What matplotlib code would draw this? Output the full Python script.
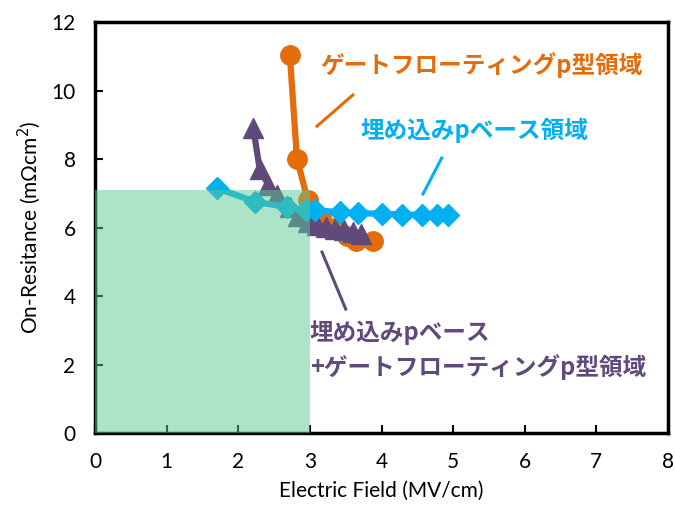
import matplotlib
matplotlib.use('Agg')
import matplotlib.pyplot as plt
from matplotlib.patches import Rectangle

plt.rcParams['font.family'] = ['Lato', 'DejaVu Sans']

# ゲートフローティングp型領域
float_x = [2.72, 2.82, 2.97, 3.15, 3.35, 3.52, 3.65, 3.88]
float_y = [11.05, 8.0, 6.8, 6.3, 6.0, 5.75, 5.6, 5.6]

# 埋め込みpベース領域
buried_x = [1.70, 2.24, 2.68, 2.95, 3.07, 3.42, 3.67, 4.01, 4.29, 4.57, 4.78, 4.93]
buried_y = [7.15, 6.75, 6.6, 6.5, 6.5, 6.45, 6.42, 6.4, 6.38, 6.37, 6.37, 6.37]

# 埋め込みpベース + ゲートフローティングp型領域
combo_x = [2.21, 2.30, 2.42, 2.54, 2.72, 2.84, 2.97, 3.10, 3.22, 3.35, 3.48, 3.60, 3.72]
combo_y = [8.9, 7.7, 7.25, 6.95, 6.6, 6.35, 6.15, 6.08, 6.02, 5.97, 5.92, 5.86, 5.8]

# target region
target_e = 3.0
target_r = 7.1

orange = '#E46C0A'
blue = '#00B0F0'
purple = '#604A7B'

fig = plt.figure(figsize=(6.75, 5.15), dpi=100)
ax = fig.add_axes([0.1407, 0.1592, 0.849, 0.798])

ax.plot(float_x, float_y, color=orange, lw=4.5, marker='o', markersize=14, zorder=3)
ax.plot(combo_x, combo_y, color=purple, lw=4.5, marker='^', markersize=14, zorder=4)
ax.plot(buried_x, buried_y, color=blue, lw=4.5, marker='D', markersize=11, zorder=5)

ax.add_patch(Rectangle((0, 0), target_e, target_r, facecolor='#5CC895', alpha=0.5,
                       edgecolor='none', zorder=6))

# annotation leader lines
ax.plot([3.60, 3.10], [9.87, 8.96], color=orange, lw=2.2)
ax.plot([4.84, 4.58], [8.03, 6.98], color=blue, lw=2.2)
ax.plot([3.17, 3.50], [5.28, 3.62], color=purple, lw=2.2)

jp = ['Noto Sans CJK JP', 'DejaVu Sans']
ax.text(3.14, 10.74, 'ゲートフローティングp型領域', color=orange, fontsize=17,
        fontweight='bold', family=jp, va='center', ha='left')
ax.text(3.70, 8.85, '埋め込みpベース領域', color=blue, fontsize=17,
        fontweight='bold', family=jp, va='center', ha='left')
ax.text(3.0, 2.92, '埋め込みpベース', color=purple, fontsize=17,
        fontweight='bold', family=jp, va='center', ha='left')
ax.text(3.0, 1.93, '+ゲートフローティングp型領域', color=purple, fontsize=17,
        fontweight='bold', family=jp, va='center', ha='left')

ax.set_xlim(0, 8)
ax.set_ylim(0, 12)
ax.set_xticks(range(0, 9))
ax.set_yticks(range(0, 13, 2))
ax.tick_params(direction='in', length=6, width=1.5, labelsize=15, pad=14)
for s in ax.spines.values():
    s.set_linewidth(2.5)
ax.set_xlabel('Electric Field (MV/cm)', fontsize=15, labelpad=6)
ax.set_ylabel('On-Resitance (mΩcm$^2$)', fontsize=15, labelpad=6)

fig.savefig('out.png', dpi=100)
